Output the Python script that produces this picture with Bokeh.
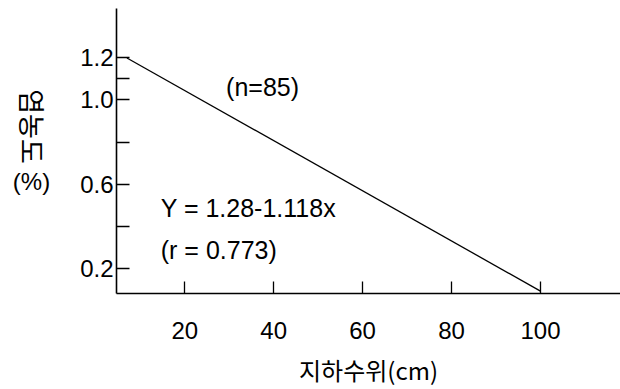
import math
from bokeh.plotting import figure
from bokeh.layouts import row
from bokeh.models import Range1d, FixedTicker, Label, PrintfTickFormatter
from bokeh.embed import file_html
from bokeh.resources import INLINE

# data
line_x = [7, 100]          # groundwater level (cm)
line_y = [1.20, 0.09]      # salt concentration (%)
x_ticks = [20, 40, 60, 80, 100]
y_major_ticks = [0.2, 0.6, 1.0, 1.2]
y_minor_ticks = [0.4, 0.8, 1.1]
x_title = "지하수위(cm)"
y_title = "염농도"
y_unit = "(%)"
note_n = "(n=85)"
note_eq = "Y = 1.28-1.118x"
note_r = "(r = 0.773)"

LATIN = "Liberation Sans"
CJK = "Noto Sans CJK KR"
FS = "24px"
FS_NOTE = "25px"

LEFT_W = 66
TOP = 8
BOTTOM = 96

# narrow panel holding the y title (reads top to bottom); its ranges equal pixel positions
side = figure(width=LEFT_W, height=389, output_backend="svg", toolbar_location=None,
              x_range=Range1d(0, LEFT_W), y_range=Range1d(389 - BOTTOM, TOP),
              x_axis_type=None, y_axis_type=None, min_border_left=0,
              min_border_right=0, min_border_top=TOP, min_border_bottom=BOTTOM)
side.outline_line_color = None
side.grid.visible = False
side.add_layout(Label(x=32, y=126, text=y_title, angle=-math.pi / 2,
                      text_font=CJK, text_font_size="27px", text_color="black",
                      text_align="center", text_baseline="middle"))
side.add_layout(Label(x=31, y=181, text=y_unit,
                      text_font=LATIN, text_font_size=FS, text_color="black",
                      text_align="center", text_baseline="middle"))

p = figure(width=620 - LEFT_W, height=389, output_backend="svg", toolbar_location=None,
           x_range=Range1d(4.65, 118.0), y_range=Range1d(0.0786, 1.4357),
           min_border_left=116 - LEFT_W, min_border_right=0, min_border_top=TOP,
           min_border_bottom=BOTTOM)
p.outline_line_color = None
p.grid.visible = False
p.background_fill_color = "white"
p.border_fill_color = "white"

p.line(line_x, line_y, line_color="black", line_width=1.3)

xa = p.xaxis[0]
xa.ticker = FixedTicker(ticks=x_ticks)
xa.axis_line_width = 1.6
xa.axis_line_color = "black"
xa.major_tick_in = 12
xa.major_tick_out = 0
xa.minor_tick_in = 0
xa.minor_tick_out = 0
xa.major_tick_line_width = 1.3
xa.major_tick_line_color = "black"
xa.major_label_text_font = LATIN
xa.major_label_text_font_size = FS
xa.major_label_text_color = "black"
xa.major_label_standoff = 28
xa.axis_label = x_title
xa.axis_label_text_font = CJK
xa.axis_label_text_font_size = FS
xa.axis_label_text_font_style = "normal"
xa.axis_label_text_color = "black"
xa.axis_label_standoff = 10

ya = p.yaxis[0]
ya.ticker = FixedTicker(ticks=y_major_ticks, minor_ticks=y_minor_ticks)
ya.formatter = PrintfTickFormatter(format="%.1f")
ya.axis_line_width = 1.6
ya.axis_line_color = "black"
ya.major_tick_in = 13
ya.major_tick_out = 0
ya.minor_tick_in = 13
ya.minor_tick_out = 0
ya.major_tick_line_width = 1.3
ya.minor_tick_line_width = 1.3
ya.major_tick_line_color = "black"
ya.minor_tick_line_color = "black"
ya.major_label_text_font = LATIN
ya.major_label_text_font_size = FS
ya.major_label_text_color = "black"
ya.major_label_standoff = 3

p.add_layout(Label(x=37.5, y=1.064, text=note_n,
                   text_font=LATIN, text_font_size=FS_NOTE, text_color="black",
                   text_align="center", text_baseline="middle"))
p.add_layout(Label(x=14.6, y=0.488, text=note_eq,
                   text_font=LATIN, text_font_size=FS_NOTE, text_color="black",
                   text_align="left", text_baseline="middle"))
p.add_layout(Label(x=14.6, y=0.288, text=note_r,
                   text_font=LATIN, text_font_size=FS_NOTE, text_color="black",
                   text_align="left", text_baseline="middle"))

layout = row(side, p, spacing=0)
open("out.html", "w").write(file_html(layout, INLINE))
